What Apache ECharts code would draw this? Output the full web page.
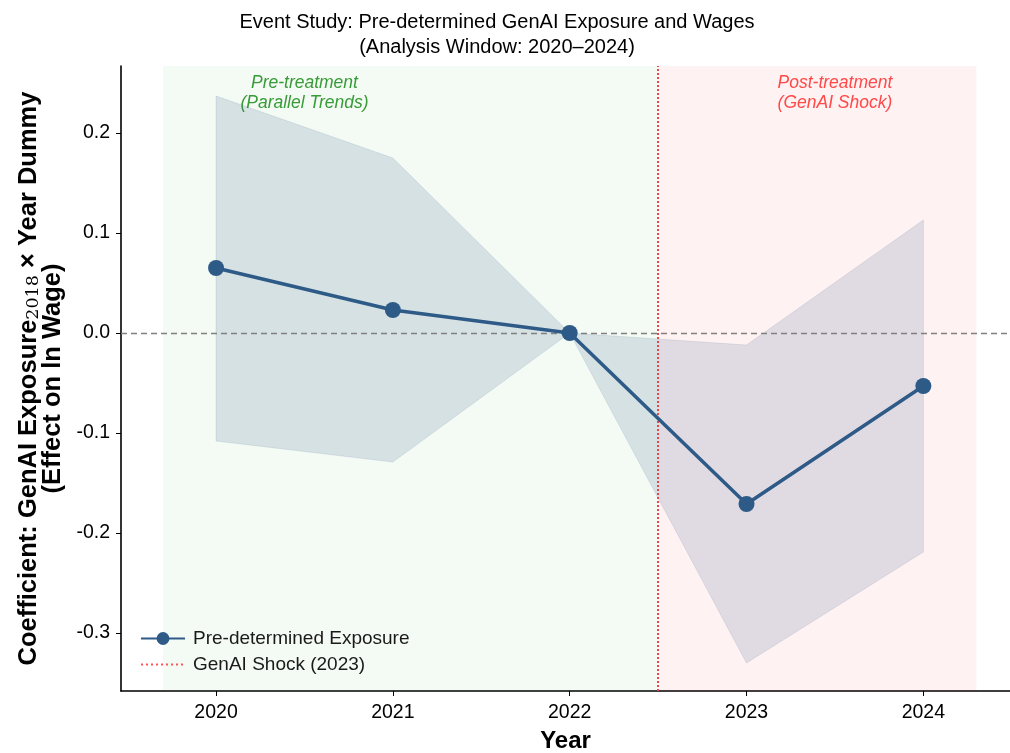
<!DOCTYPE html>
<html>
<head>
<meta charset="utf-8">
<script src="https://cdn.jsdelivr.net/npm/echarts@6/dist/echarts.min.js"></script>
<style>html,body{margin:0;padding:0;background:#fff;}#c{width:1010px;height:753px;}</style>
</head>
<body>
<div id="c"></div>
<script>
const years = [2020, 2021, 2022, 2023, 2024];
const coef = [0.065, 0.023, 0.0, -0.171, -0.053];
const ciLow = [-0.108, -0.129, 0.0, -0.330, -0.219];
const ciHigh = [0.237, 0.175, 0.0, -0.012, 0.113];
const yTicks = [-0.3, -0.2, -0.1, 0.0, 0.1, 0.2];
const preSpan = [2019.7, 2022.5];
const postSpan = [2022.5, 2024.3];
const shockX = 2022.5;

const FONT = '"Liberation Sans", Arial, sans-serif';
const lineColor = '#2E5A88';

const chart = echarts.init(document.getElementById('c'), null, {renderer: 'canvas'});

const option = {
  animation: false,
  backgroundColor: '#ffffff',
  textStyle: {fontFamily: FONT},
  grid: {left: 121, right: 0, top: 66, bottom: 62, containLabel: false, outerBoundsMode: 'none'},
  xAxis: {
    type: 'value',
    min: 2019.4625,
    max: 2024.49,
    splitLine: {show: false},
    axisLine: {show: true, onZero: false, lineStyle: {color: '#000', width: 1.6}},
    axisTick: {show: true, length: 5, lineStyle: {color: '#000', width: 1}, customValues: years},
    axisLabel: {color: '#000', fontSize: 19.5, fontFamily: FONT, margin: 12, customValues: years, formatter: v => String(Math.round(v))},
    name: 'Year',
    nameLocation: 'middle',
    nameGap: 38,
    nameTextStyle: {fontSize: 24, fontWeight: 'bold', color: '#000', fontFamily: FONT}
  },
  yAxis: {
    type: 'value',
    min: -0.358,
    max: 0.267,
    splitLine: {show: false},
    axisLine: {show: true, onZero: false, lineStyle: {color: '#000', width: 1.6}},
    axisTick: {show: true, length: 5, lineStyle: {color: '#000', width: 1}, customValues: yTicks},
    axisLabel: {color: '#000', fontSize: 19.5, fontFamily: FONT, margin: 11, customValues: yTicks, formatter: v => v.toFixed(1)},
    name: '{b|Coefficient: GenAI Exposure}{sub|2018}{b| × Year Dummy}\n{b|(Effect on ln Wage)}',
    nameLocation: 'middle',
    nameRotate: 90,
    nameGap: 42,
    nameTextStyle: {
      color: '#000',
      align: 'center',
      lineHeight: 23.5,
      rich: {
        b: {fontSize: 25.5, fontWeight: 'bold', color: '#000', fontFamily: FONT, lineHeight: 23.5},
        sub: {fontSize: 17.5, color: '#000', fontFamily: '"DejaVu Serif", "Liberation Serif", serif', padding: [9, 0, 0, 0], lineHeight: 23.5}
      }
    }
  },
  legend: {
    orient: 'vertical',
    left: 135,
    top: 624,
    itemWidth: 44,
    itemHeight: 16,
    itemGap: 7,
    textStyle: {fontSize: 19, color: '#1a1a1a', fontFamily: FONT, padding: [0, 0, 0, 3]},
    data: [
      {name: 'Pre-determined Exposure'},
      {name: 'GenAI Shock (2023)', icon: 'path://M0,7 L2,7 L2,9 L0,9 Z M5,7 L7,7 L7,9 L5,9 Z M10,7 L12,7 L12,9 L10,9 Z M15,7 L17,7 L17,9 L15,9 Z M20,7 L22,7 L22,9 L20,9 Z M25,7 L27,7 L27,9 L25,9 Z M30,7 L32,7 L32,9 L30,9 Z M35,7 L37,7 L37,9 L35,9 Z M40,7 L42,7 L42,9 L40,9 Z M0,0 L0,0.01 L44,0.01 L44,0 Z M0,16 L0,16.01 L44,16.01 L44,16 Z', itemStyle: {color: '#ff5555'}}
    ]
  },
  series: [
    {
      type: 'line',
      name: 'bg',
      data: [],
      silent: true,
      markArea: {
        silent: true,
        data: [
          [{xAxis: preSpan[0], itemStyle: {color: 'rgba(0,128,0,0.045)'}}, {xAxis: preSpan[1]}],
          [{xAxis: postSpan[0], itemStyle: {color: 'rgba(255,0,0,0.05)'}}, {xAxis: postSpan[1]}]
        ]
      },
      markLine: {
        silent: true,
        symbol: 'none',
        label: {show: false},
        lineStyle: {color: '#808080', type: [6, 4], width: 1.3},
        data: [{yAxis: 0}]
      },
      z: 1
    },
    {
      type: 'custom',
      name: 'ci',
      silent: true,
      data: years.map((y, i) => [y, ciLow[i], ciHigh[i]]),
      renderItem: function (params, api) {
        if (params.dataIndex !== 0) return null;
        const pts = [];
        for (let i = 0; i < years.length; i++) pts.push(api.coord([years[i], ciHigh[i]]));
        for (let i = years.length - 1; i >= 0; i--) pts.push(api.coord([years[i], ciLow[i]]));
        return {
          type: 'polygon',
          shape: {points: pts},
          style: {fill: 'rgba(46,90,136,0.15)', stroke: 'rgba(46,90,136,0.12)', lineWidth: 1}
        };
      },
      z: 2
    },
    {
      type: 'line',
      name: 'GenAI Shock (2023)',
      data: [],
      symbol: 'none',
      itemStyle: {color: '#ff5555'},
      lineStyle: {color: '#ff5555', type: 'dotted', width: 2},
      markLine: {
        silent: true,
        symbol: 'none',
        label: {show: false},
        lineStyle: {color: '#e5474b', type: [2, 2], width: 2},
        data: [{xAxis: shockX}]
      },
      z: 3
    },
    {
      type: 'line',
      name: 'Pre-determined Exposure',
      data: years.map((y, i) => [y, coef[i]]),
      symbol: 'circle',
      symbolSize: 16,
      itemStyle: {color: lineColor},
      lineStyle: {color: lineColor, width: 3.5},
      z: 5
    }
  ]
};
chart.setOption(option);

const xPre = chart.convertToPixel({xAxisIndex: 0}, (years[0] + years[1]) / 2);
const xPost = chart.convertToPixel({xAxisIndex: 0}, (years[3] + years[4]) / 2);
chart.setOption({
  graphic: [
    {type: 'text', x: 497, y: 35, style: {text: 'Event Study: Pre-determined GenAI Exposure and Wages\n(Analysis Window: 2020–2024)', fill: '#000', font: '20px ' + FONT, textAlign: 'center', textVerticalAlign: 'middle', lineHeight: 25}},
    {type: 'text', x: xPre, y: 93, style: {text: 'Pre-treatment\n(Parallel Trends)', fill: '#3a9d3a', font: 'italic 17.5px ' + FONT, textAlign: 'center', textVerticalAlign: 'middle', lineHeight: 19.5}},
    {type: 'text', x: xPost, y: 93, style: {text: 'Post-treatment\n(GenAI Shock)', fill: '#ff4d4d', font: 'italic 17.5px ' + FONT, textAlign: 'center', textVerticalAlign: 'middle', lineHeight: 19.5}}
  ]
});
</script>
</body>
</html>
